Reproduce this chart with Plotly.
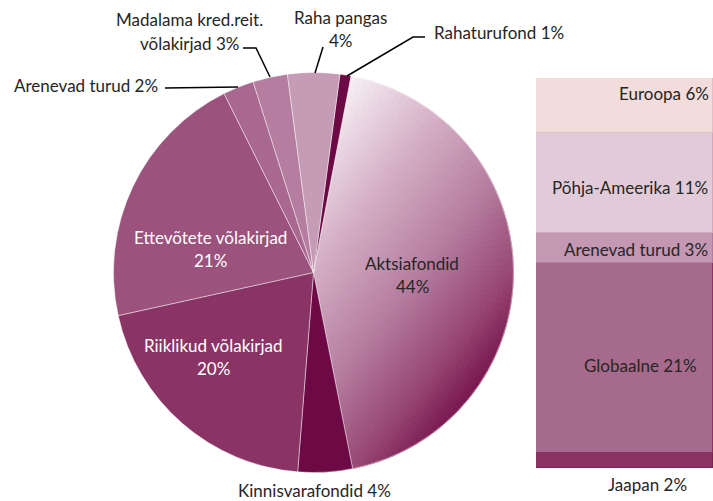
import numpy as np
import plotly.graph_objects as go

W, H = 713, 501

# ---------------- data ----------------
pie_labels = ["Rahaturufond", "Aktsiafondid", "Kinnisvarafondid", "Riiklikud võlakirjad",
              "Ettevõtete võlakirjad", "Arenevad turud", "Madalama kred.reit. võlakirjad", "Raha pangas"]
pie_values = [0.9, 43.9, 4.4, 20.3, 21.1, 2.5, 2.8, 4.2]
pie_colors = ["#6d0a45", "rgba(0,0,0,0)", "#6d0a45", "#8a3466", "#9b527c", "#a8688f", "#b57ea1", "#c59bb5"]

bar_labels = ["Jaapan", "Globaalne", "Arenevad turud", "Põhja-Ameerika", "Euroopa"]
bar_values = [1.7, 21.5, 3.4, 11.3, 6.2]
bar_text = ["Jaapan 2%", "Globaalne 21%", "Arenevad turud 3%", "Põhja-Ameerika 11%", "Euroopa 6%"]
bar_colors = ["#8b3263", "#a66a8c", "#c497b3", "#e2cbd9", "#f2dcdc"]
bar_lines = ["#7a2454", "#8b3263", "#b07f9f", "#cfaab9", "#e0c0c4"]

FONT = "Lato"
FS = 17
TXT = "#262626"

# ---------------- geometry ----------------
cx, cy, R = 313.5, 272.5, 200.0
rot = 7.6

def px(x):
    return x / W

def py(y):
    return 1 - y / H

fig = go.Figure()

# --- gradient fill for the Aktsiafondid slice (rings of sub-slices) ---
stops = [(0.0, (247, 241, 245)), (0.3, (214, 178, 200)), (0.6, (182, 126, 160)),
         (0.85, (150, 70, 114)), (1.0, (120, 22, 78))]

def grad(t):
    t = min(max(t, 0), 1)
    for (t0, c0), (t1, c1) in zip(stops[:-1], stops[1:]):
        if t <= t1:
            f = (t - t0) / (t1 - t0)
            c = [round(a + (b - a) * f) for a, b in zip(c0, c1)]
            return "rgb(%d,%d,%d)" % tuple(c)
    return "rgb(%d,%d,%d)" % stops[-1][1]

total = sum(pie_values)
ai = 1
v_before = sum(pie_values[:ai])
v_after = total - v_before - pie_values[ai]
th0 = rot + v_before / total * 360
span = pie_values[ai] / total * 360
DX, DY = 1.0, 0.8

def proj(rho, th_deg):
    th = np.radians(th_deg)
    return rho * (DX * np.sin(th) - DY * np.cos(th))

grid = [proj(r, th0 + s * span) for r in np.linspace(0, 1, 21) for s in np.linspace(0, 1, 81)]
pmin, pmax = min(grid), max(grid)

NR, NA = 40, 80
ring_values = [v_before] + [pie_values[ai] / NA] * NA + [v_after]
for k in range(NR, 0, -1):
    ro = k / NR
    rm = (k - 0.5) / NR
    cols = [grad((proj(rm, th0 + (j + 0.5) * span / NA) - pmin) / (pmax - pmin)) for j in range(NA)]
    allc = ["rgba(0,0,0,0)"] + cols + ["rgba(0,0,0,0)"]
    fig.add_trace(go.Pie(
        values=ring_values, sort=False, direction="clockwise", rotation=rot,
        marker=dict(colors=allc, line=dict(color=allc, width=0.7)),
        domain=dict(x=[px(cx - ro * R), px(cx + ro * R)], y=[py(cy + ro * R), py(cy - ro * R)]),
        textinfo="none", hoverinfo="skip", showlegend=False))

# --- main pie ---
fig.add_trace(go.Pie(
    labels=pie_labels, values=pie_values, sort=False, direction="clockwise", rotation=rot,
    marker=dict(colors=pie_colors, line=dict(color="rgba(255,255,255,0.55)", width=0.8)),
    domain=dict(x=[px(cx - R), px(cx + R)], y=[py(cy + R), py(cy - R)]),
    textinfo="none", showlegend=False))

# --- stacked bar ---
for lab, v, c, lc in zip(bar_labels, bar_values, bar_colors, bar_lines):
    fig.add_trace(go.Bar(x=[0], y=[v], name=lab, marker=dict(color=c, line=dict(color=lc, width=1)),
                         showlegend=False, xaxis="x", yaxis="y"))

ann = []

def A(text, x, y, xa="center", color=TXT, size=FS):
    ann.append(dict(text=text, x=px(x), y=py(y), xref="paper", yref="paper", xanchor=xa,
                    yanchor="middle", showarrow=False, font=dict(family=FONT, size=size, color=color)))

# pie labels
A("Madalama kred.reit.", 189, 20)
A("võlakirjad 3%", 189, 43)
A("Arenevad turud 2%", 160, 85, xa="right")
A("Raha pangas", 340, 17)
A("4%", 341, 41)
A("Rahaturufond 1%", 432, 32, xa="left")
A("Ettevõtete võlakirjad", 210, 237, color="white")
A("21%", 210, 260, color="white")
A("Riiklikud võlakirjad", 213, 345, color="white")
A("20%", 213, 368, color="white")
A("Aktsiafondid", 412, 263)
A("44%", 412, 286)
A("Kinnisvarafondid 4%", 314, 490)

# bar labels
A(bar_text[4], 711, 93, xa="right")
A(bar_text[3], 710, 187, xa="right")
A(bar_text[2], 710, 249, xa="right")
A(bar_text[1], 640, 365)
A(bar_text[0], 647, 484)

# leader lines
def path(pts):
    return "M " + " L ".join("%f,%f" % (px(x), py(y)) for x, y in pts)

shapes = []
for pts in [[(243, 48), (256, 48), (270, 77)],
            [(165, 88), (238, 87)],
            [(323, 47), (315, 73)],
            [(425, 37), (413, 37), (347, 76)]]:
    shapes.append(dict(type="path", path=path(pts), xref="paper", yref="paper",
                       line=dict(color="black", width=1.5)))

fig.update_layout(
    width=W, height=H, margin=dict(l=0, r=0, t=0, b=0),
    paper_bgcolor="white", plot_bgcolor="white",
    barmode="stack", bargap=0,
    xaxis=dict(domain=[536 / W, 1], range=[-0.5, 0.5], visible=False, fixedrange=True),
    yaxis=dict(domain=[py(468), py(78)], range=[0, sum(bar_values)], visible=False, fixedrange=True),
    annotations=ann, shapes=shapes, showlegend=False,
)

fig.write_html("out.html", config={"displayModeBar": False},
               post_script="document.body.style.margin='0';document.body.style.overflow='hidden';")
